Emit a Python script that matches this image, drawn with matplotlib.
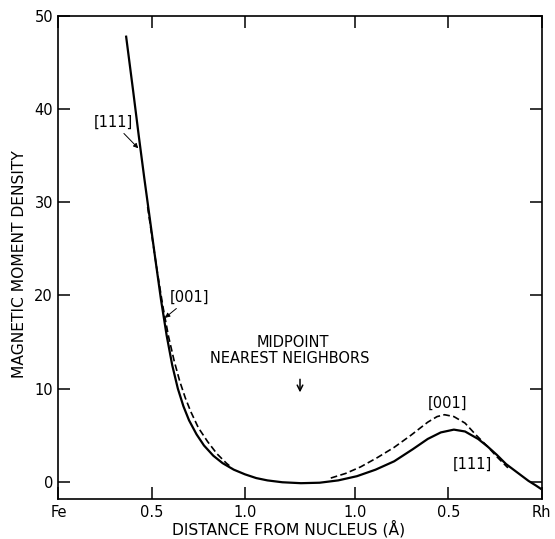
import numpy as np
import matplotlib
matplotlib.use("Agg")
from matplotlib import pyplot as plt

plt.rcParams['font.family'] = ['DejaVu Sans']

# distance along the Fe-Rh bond (angstrom), Fe at 0, Rh at 2.59
bond = 2.59

# [111] direction, solid curve
x111 = [0.362, 0.40, 0.43, 0.46, 0.49, 0.52, 0.55, 0.58, 0.61, 0.64, 0.67, 0.70,
        0.74, 0.78, 0.83, 0.88, 0.94, 1.00, 1.06, 1.12, 1.20, 1.30, 1.40, 1.50,
        1.60, 1.70, 1.80, 1.90, 1.98, 2.05, 2.12, 2.18, 2.25, 2.30, 2.35, 2.40,
        2.46, 2.52, 2.56, 2.59]
y111 = [47.9, 42.0, 37.2, 32.6, 28.2, 23.8, 19.5, 15.7, 12.5, 10.0, 8.1, 6.6,
        5.1, 3.9, 2.8, 2.0, 1.3, 0.8, 0.4, 0.15, -0.05, -0.15, -0.1, 0.15,
        0.6, 1.3, 2.2, 3.5, 4.6, 5.3, 5.6, 5.4, 4.6, 3.8, 2.9, 1.9,
        1.0, 0.1, -0.4, -0.8]

# [001] direction, dashed curve (two pieces)
x001_fe = [0.478, 0.50, 0.53, 0.56, 0.59, 0.62, 0.65, 0.68, 0.71, 0.75, 0.80, 0.85, 0.90, 0.93]
y001_fe = [29.5, 26.5, 22.5, 18.8, 15.6, 13.0, 10.8, 9.0, 7.5, 5.8, 4.3, 3.0, 2.0, 1.5]
x001_rh = [1.46, 1.54, 1.62, 1.71, 1.80, 1.89, 1.98, 2.03, 2.07, 2.12, 2.18, 2.24, 2.30, 2.35, 2.41]
y001_rh = [0.4, 0.9, 1.6, 2.6, 3.7, 5.0, 6.4, 7.0, 7.2, 7.0, 6.3, 5.0, 3.8, 2.7, 1.5]

xtick_pos = [0, 0.5, 1.0, bond - 1.0, bond - 0.5, bond]
xtick_lab = ["Fe", "0.5", "1.0", "1.0", "0.5", "Rh"]
ytick_pos = [0, 10, 20, 30, 40, 50]

fig = plt.figure(figsize=(5.55, 5.39), dpi=100)
ax = fig.add_axes([0.1054, 0.0733, 0.8703, 0.897])

ax.plot(x111, y111, color="black", lw=1.6, solid_capstyle="butt")
dash = (0, (4, 2))
ax.plot(x001_fe, y001_fe, color="black", lw=1.2, linestyle=dash)
ax.plot(x001_rh, y001_rh, color="black", lw=1.2, linestyle=dash)

ax.set_xlim(0, bond)
ax.set_ylim(-1.9, 50)
ax.set_xticks(xtick_pos)
ax.set_xticklabels(xtick_lab)
ax.set_yticks(ytick_pos)

ax.tick_params(direction="in", top=True, right=True, length=8.5, width=1.1,
               labelsize=10.5, pad=4)
for s in ax.spines.values():
    s.set_linewidth(1.2)

ax.set_xlabel("DISTANCE FROM NUCLEUS (Å)", fontsize=11.2, va="baseline")
ax.xaxis.set_label_coords(0.477, -0.072)
ax.set_ylabel("MAGNETIC MOMENT DENSITY", fontsize=11.2)
ax.yaxis.set_label_coords(-0.066, 0.487)

arrow = dict(arrowstyle="-|>", lw=0.7, color="black", mutation_scale=7,
             shrinkA=1, shrinkB=0)
ax.annotate("[111]", xy=(0.428, 35.8), xytext=(0.292, 38.6), fontsize=10.5,
            ha="center", va="center", arrowprops=arrow)
ax.annotate("[001]", xy=(0.571, 17.6), xytext=(0.705, 19.8), fontsize=10.5,
            ha="center", va="center", arrowprops=arrow)

ax.text(1.258, 15.0, "MIDPOINT", fontsize=10.5, ha="center", va="center")
ax.text(1.242, 13.2, "NEAREST NEIGHBORS", fontsize=10.5, ha="center", va="center")
ax.annotate("", xy=(bond / 2, 9.3), xytext=(bond / 2, 11.3),
            arrowprops=dict(arrowstyle="->", lw=1.1, color="black"))

ax.text(2.084, 8.4, "[001]", fontsize=10.5, ha="center", va="center")
ax.text(2.217, 1.9, "[111]", fontsize=10.5, ha="center", va="center")

fig.savefig("out.png", dpi=100)
